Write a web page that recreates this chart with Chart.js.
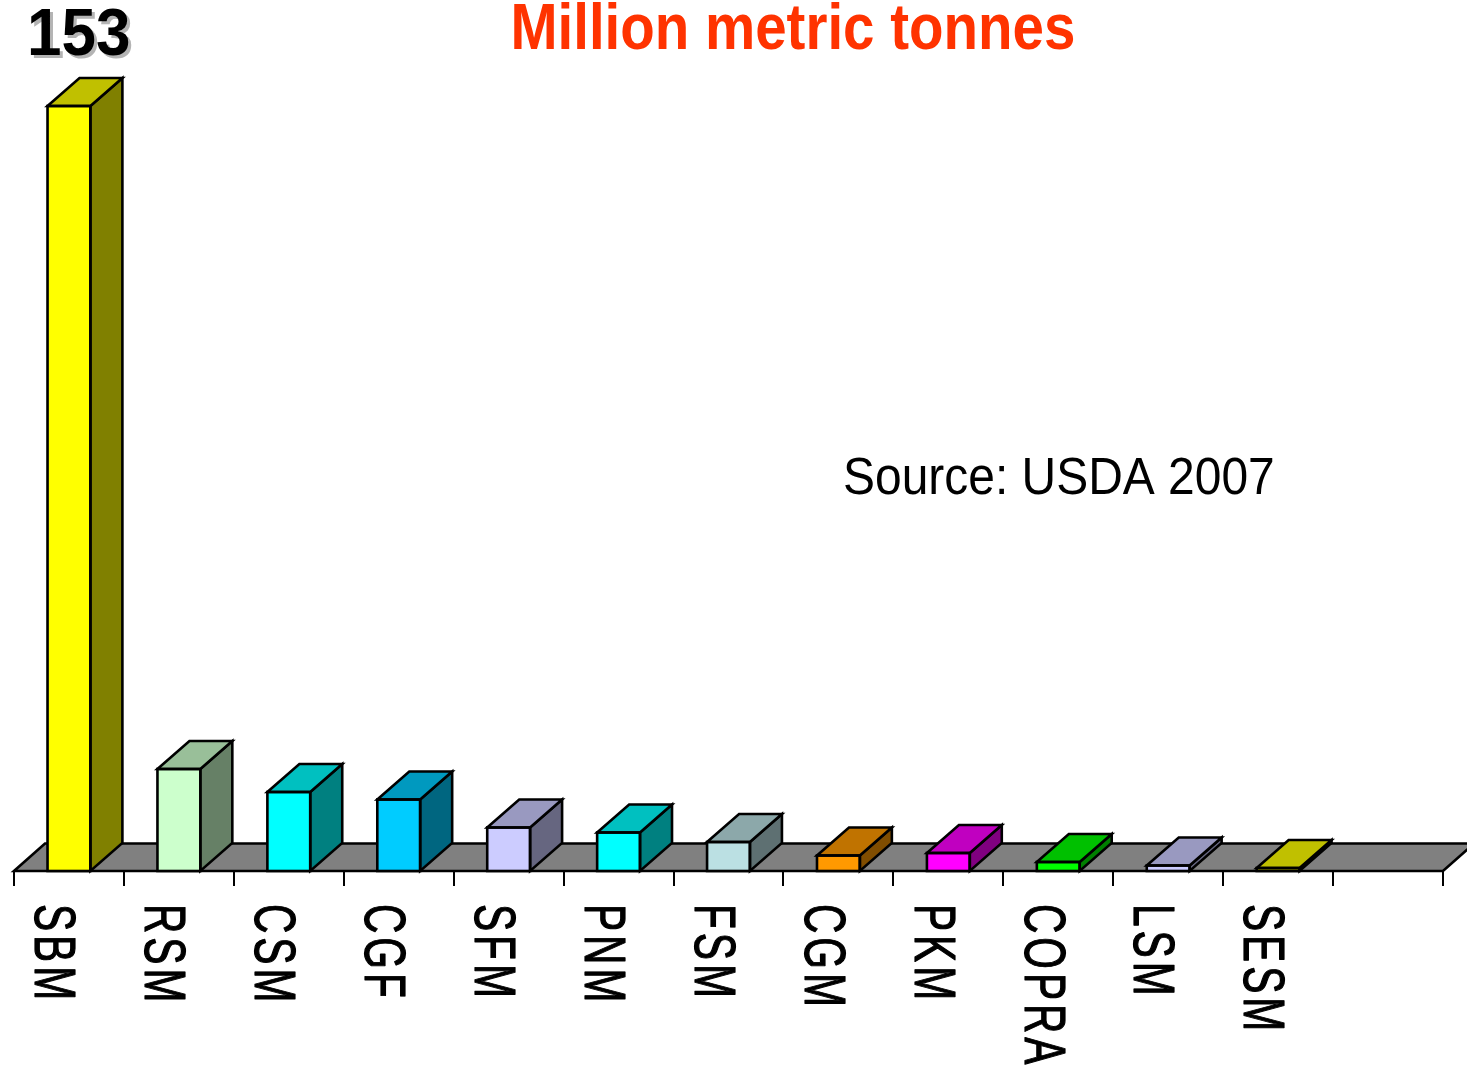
<!DOCTYPE html>
<html><head><meta charset="utf-8">
<script src="https://cdn.jsdelivr.net/npm/chart.js@4"></script>
<style>html,body{margin:0;padding:0;background:#fff;overflow:hidden}canvas{display:block}</style>
</head><body>
<canvas id="c" width="1467" height="1067"></canvas>
<script>
// ---- data ----
const categories = ['SBM','RSM','CSM','CGF','SFM','PNM','FSM','CGM','PKM','COPRA','LSM','SESM',''];
const values = [153, 20.4, 15.8, 14.3, 8.7, 7.7, 5.8, 3.1, 3.6, 1.8, 1.1, 0.6, null];
const titleText = 'Million metric tonnes';
const peakLabel = '153';
const sourceText = 'Source: USDA 2007';
const yMax = 160;

// ---- styles ----
const frontColors = ['#FFFF00','#CCFFCC','#00FFFF','#00CCFF','#CCCCFF','#00FFFF','#BBE0E3','#FF9900','#FF00FF','#00FF00','#CCCCFF','#FFFF00','#FFFFFF'];
const topColors   = ['#C0C000','#99BF99','#00C0C0','#0099BF','#9999C0','#00C0C0','#8CA8AA','#C07300','#C000C0','#00C000','#9999C0','#C0C000','#FFFFFF'];
const sideColors  = ['#808000','#668066','#008080','#006680','#666680','#008080','#5E7072','#804D00','#800080','#008000','#666680','#808000','#FFFFFF'];
const DX = 32, DY = -28, FDX = 31, FDY = -27.5;
const LW = 2.6;
const SANS = '"Liberation Sans", Arial, Helvetica, sans-serif';

function fitText(ctx, text, font, left, right, baseline, capTarget, color) {
  ctx.save();
  ctx.font = font;
  ctx.fillStyle = color;
  ctx.textAlign = 'left';
  ctx.textBaseline = 'alphabetic';
  const m = ctx.measureText(text);
  const inkW = m.actualBoundingBoxLeft + m.actualBoundingBoxRight;
  const sx = (right - left) / inkW;
  const mc = ctx.measureText('M');
  const sy = capTarget ? capTarget / mc.actualBoundingBoxAscent : 1;
  ctx.translate(left + m.actualBoundingBoxLeft * sx, baseline);
  ctx.scale(sx, sy);
  ctx.fillText(text, 0, 0);
  ctx.restore();
}

const threeD = {
  id: 'threeD',
  beforeDatasetsDraw(chart) {
    const {ctx, chartArea: a} = chart;
    const y0 = chart.scales.y.getPixelForValue(0);
    ctx.save();
    ctx.beginPath();
    ctx.moveTo(a.left, y0);
    ctx.lineTo(a.right, y0);
    ctx.lineTo(a.right + FDX, y0 + FDY);
    ctx.lineTo(a.left + FDX, y0 + FDY);
    ctx.closePath();
    ctx.fillStyle = '#808080';
    ctx.fill();
    ctx.lineWidth = LW;
    ctx.strokeStyle = '#000';
    ctx.lineJoin = 'miter';
    ctx.stroke();
    ctx.restore();
  },
  afterDatasetsDraw(chart) {
    const {ctx} = chart;
    const meta = chart.getDatasetMeta(0);
    ctx.save();
    ctx.lineWidth = LW;
    ctx.strokeStyle = '#000';
    ctx.lineJoin = 'miter';
    meta.data.forEach((bar, i) => {
      if (values[i] == null) return;
      const p = bar.getProps(['x', 'y', 'base', 'width'], true);
      const xl = p.x - p.width / 2, xr = p.x + p.width / 2, yt = p.y, yb = p.base;
      // side
      ctx.beginPath();
      ctx.moveTo(xr, yt); ctx.lineTo(xr + DX, yt + DY); ctx.lineTo(xr + DX, yb + DY); ctx.lineTo(xr, yb); ctx.closePath();
      ctx.fillStyle = sideColors[i]; ctx.fill(); ctx.stroke();
      // top
      ctx.beginPath();
      ctx.moveTo(xl, yt); ctx.lineTo(xl + DX, yt + DY); ctx.lineTo(xr + DX, yt + DY); ctx.lineTo(xr, yt); ctx.closePath();
      ctx.fillStyle = topColors[i]; ctx.fill(); ctx.stroke();
      // front outline
      ctx.strokeRect(xl, yt, xr - xl, yb - yt);
    });
    ctx.restore();
  },
  afterDraw(chart) {
    const {ctx} = chart;
    const xs = chart.scales.x;
    // category labels, rotated clockwise
    ctx.save();
    ctx.font = '58px ' + SANS;
    ctx.fillStyle = '#000';
    ctx.strokeStyle = '#000';
    ctx.lineWidth = 1.2;
    ctx.lineJoin = 'round';
    ctx.textBaseline = 'alphabetic';
    const CAP = 41.5, SX = 0.7, GAP = 4, TOP = 904;
    categories.forEach((c, i) => {
      if (!c) return;
      const cx = xs.getPixelForValue(i) - 13;
      ctx.save();
      ctx.translate(cx - CAP / 2, TOP);
      ctx.rotate(Math.PI / 2);
      let pos = 0;
      for (const ch of c) {
        ctx.save();
        ctx.translate(pos, 0);
        ctx.scale(SX, 1);
        ctx.fillText(ch, 0, 0);
        ctx.strokeText(ch, 0, 0);
        ctx.restore();
        pos += ctx.measureText(ch).width * SX + GAP;
      }
      ctx.restore();
    });
    ctx.restore();

    // peak value with shadow
    fitText(ctx, peakLabel, 'bold 62px ' + SANS, 33, 132, 58, 45, '#B4B4B4');
    fitText(ctx, peakLabel, 'bold 62px ' + SANS, 30, 129, 55, 45, '#000000');

    // title
    fitText(ctx, titleText, 'bold 64px "Liberation Sans Narrow", ' + SANS, 514, 1073, 49, 45, '#FF3300');

    // source
    fitText(ctx, sourceText, '50px ' + SANS, 845, 1273, 494, 36, '#000000');
  }
};

new Chart(document.getElementById('c'), {
  type: 'bar',
  data: {
    labels: categories,
    datasets: [{
      data: values,
      backgroundColor: frontColors,
      borderWidth: 0,
      barPercentage: 0.39,
      categoryPercentage: 1.0
    }]
  },
  options: {
    responsive: false,
    animation: false,
    devicePixelRatio: 1,
    layout: { padding: { left: 14, right: 24, top: 71, bottom: 181 } },
    plugins: { legend: { display: false }, tooltip: { enabled: false }, title: { display: false } },
    scales: {
      x: {
        display: true,
        grid: { display: true, drawOnChartArea: false, drawTicks: true, tickLength: 15, color: '#000', lineWidth: 2, offset: true },
        border: { display: false },
        ticks: { display: false, autoSkip: false }
      },
      y: { display: false, min: 0, max: yMax }
    }
  },
  plugins: [threeD]
});
</script>
</body></html>
